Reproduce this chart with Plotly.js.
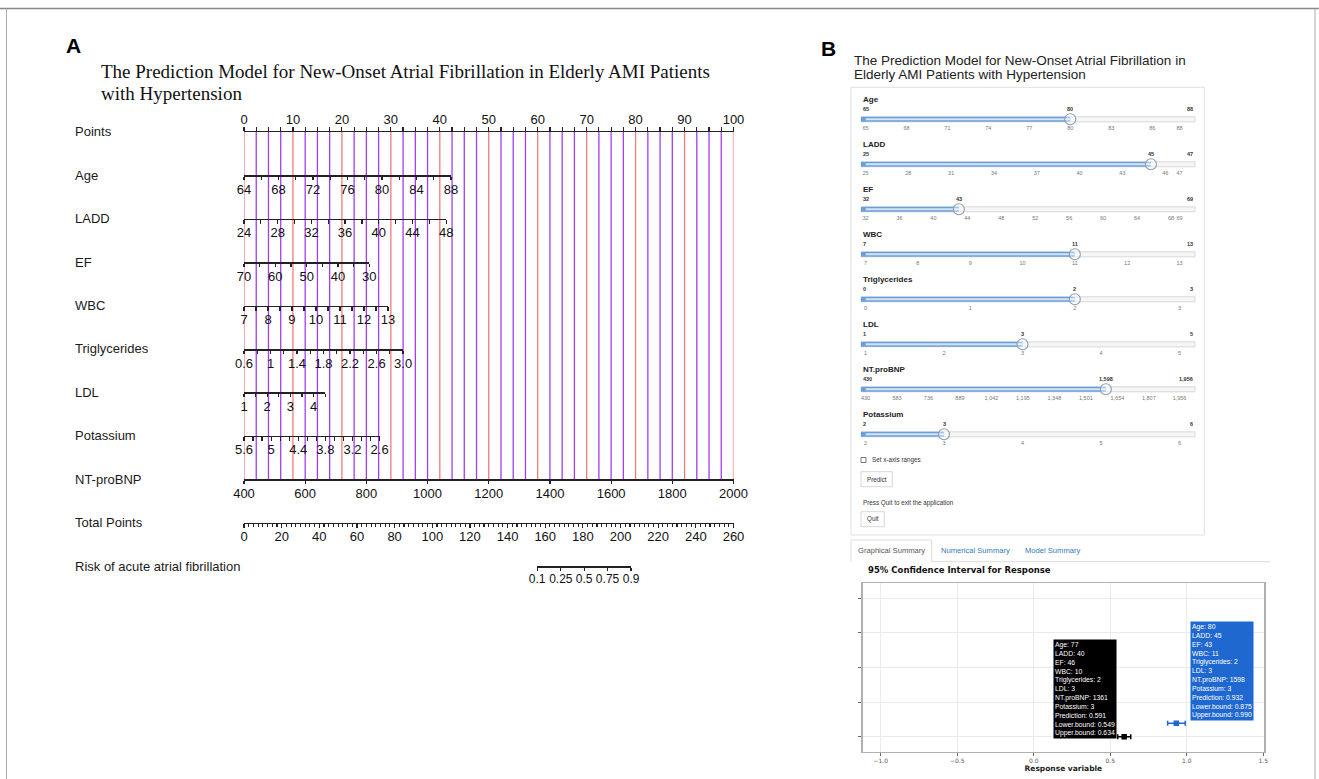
<!DOCTYPE html>
<html><head><meta charset="utf-8">
<script src="https://cdn.plot.ly/plotly-3.0.1.min.js"></script>
<style>html,body{margin:0;padding:0;background:#fff}#chart{width:1319px;height:779px}</style>
</head><body><div id="chart"></div>
<script>
// ================= DATA =================
// Panel A – nomogram scales
const rowNames = ['Points','Age','LADD','EF','WBC','Triglycerides','LDL','Potassium','NT-proBNP','Total Points','Risk of acute atrial fibrillation'];
const redGridPoints = [0,10,20,30,40,50,60,70,80,90,100];
const purpleGridPoints = [2.5,5,7.5,12.5,15,17.5,22.5,25,27.5,32.5,35,37.5,42.5,45,47.5,52.5,55,57.5,62.5,65,67.5,72.5,75,77.5,82.5,85,87.5,92.5,95,97.5];
const ageTicks = [64,68,72,76,80,84,88];
const laddTicks = [24,28,32,36,40,44,48];
const efTicks = [70,60,50,40,30];
const wbcTicks = [7,8,9,10,11,12,13];
const trigTicks = [0.6,1,1.4,1.8,2.2,2.6,3.0];
const trigText = ['0.6','1','1.4','1.8','2.2','2.6','3.0'];
const ldlTicks = [1,2,3,4];
const potassiumTicks = [5.6,5,4.4,3.8,3.2,2.6];
const ntTicks = [400,600,800,1000,1200,1400,1600,1800,2000];
const scaleStart = [64,24,70,7,0.6,1,5.6,400];
const scaleEnd = [88,48,30,13,3.0,4.5,2.6,2000];
const scaleMaxPoints = [42.3,41.3,25.6,29.4,32.5,16.6,27.7,100];
const scaleMinorStep = [2,2,5,0.5,0.2,0.5,0.2,0];
const pointsMax = 100;
const totalPointsMax = 260;
const riskLabels = ['0.1','0.25','0.5','0.75','0.9'];
const riskAtTotalPoints = [155.7,168.3,180.7,193.1,205.6];

// Panel B – sliders
const sliderNames = ['Age','LADD','EF','WBC','Triglycerides','LDL','NT.proBNP','Potassium'];
const sliderMin = [65,25,32,7,0,1,430,2];
const sliderMax = [88,47,69,13,3,5,1956,6];
const sliderValue = [80,45,43,11,2,3,1598,3];
const ageSliderTicks = [65,68,71,74,77,80,83,86,88];
const laddSliderTicks = [25,28,31,34,37,40,43,46,47];
const efSliderTicks = [32,36,40,44,48,52,56,60,64,68,69];
const wbcSliderTicks = [7,8,9,10,11,12,13];
const trigSliderTicks = [0,1,2,3];
const ldlSliderTicks = [1,2,3,4,5];
const ntSliderTicks = [430,583,736,889,1042,1195,1348,1501,1654,1807,1956];
const kSliderTicks = [2,3,4,5,6];

// Panel B – confidence interval plot
const ciXTicks = [-1,-0.5,0,0.5,1,1.5];
const ciYTicks = [1,2,3,4,5];
const predY = [1,1.39];
const predValue = [0.591,0.932];
const predLower = [0.549,0.875];
const predUpper = [0.634,0.990];
const tipAge = [77,80];
const tipLADD = [40,45];
const tipEF = [46,43];
const tipWBC = [10,11];
const tipTrig = [2,2];
const tipLDL = [3,3];
const tipNT = [1361,1598];
const tipK = [3,3];

// ================= LAYOUT HELPERS =================
const W=1319,H=779;
const fx = p => p/W, fy = p => 1 - p/H;
const RED='#f27b7b', PURPLE='#a23ef0', AX='#222';
const PX0=244, PX1=733.5;
const rowY = i => 132 + 43.4*i;

const traces=[], shapes=[], annotations=[];
const layout = {
  width:W, height:H, margin:{l:0,r:0,t:0,b:0},
  paper_bgcolor:'#fff', plot_bgcolor:'rgba(0,0,0,0)',
  showlegend:false, hovermode:false, dragmode:false,
  font:{family:'Liberation Sans, Arial, sans-serif', color:'#111'}
};
function ann(x,y,text,o){
  annotations.push(Object.assign({x:x,y:y,xref:'paper',yref:'paper',text:text,showarrow:false,xanchor:'left',yanchor:'middle'},o||{}));
}
function rect(x0,y0,x1,y1,o){
  shapes.push(Object.assign({type:'rect',xref:'paper',yref:'paper',x0:fx(x0),x1:fx(x1),y0:fy(y1),y1:fy(y0),layer:'below',line:{color:'#ccc',width:1},fillcolor:'rgba(0,0,0,0)'},o||{}));
}
function hline(x0,x1,y,o){
  shapes.push(Object.assign({type:'line',xref:'paper',yref:'paper',x0:fx(x0),x1:fx(x1),y0:fy(y),y1:fy(y),layer:'below',line:{color:'#ddd',width:1}},o||{}));
}
function invisible(x,xa,ya){
  traces.push({type:'scatter',x:x,y:x.map(()=>0),xaxis:xa,yaxis:ya,mode:'markers',marker:{opacity:0},hoverinfo:'skip'});
}
function smallY(lineY,n){
  layout['yaxis'+n]={domain:[fy(lineY), fy(lineY)+0.004], range:[0,1], visible:false, fixedrange:true};
}

// outer frame
hline(0,W,8.5,{line:{color:'#888',width:1.5}});
shapes.push({type:'line',xref:'paper',yref:'paper',x0:fx(6.5),x1:fx(6.5),y0:0,y1:fy(8.5),line:{color:'#aaa',width:1}});
shapes.push({type:'line',xref:'paper',yref:'paper',x0:fx(1315),x1:fx(1315),y0:0,y1:fy(8.5),line:{color:'#aaa',width:1}});

// ================= PANEL A =================
ann(fx(73),fy(45),'<b>A</b>',{xanchor:'center',font:{size:21,family:'Liberation Sans Narrow, Liberation Sans, Arial',color:'#000'}});
ann(fx(99),fy(71.5),'The Prediction Model for New-Onset Atrial Fibrillation in Elderly AMI Patients',{font:{size:19,family:'Liberation Serif, Times New Roman, serif',color:'#111'}});
ann(fx(99),fy(93.5),'with Hypertension',{font:{size:19,family:'Liberation Serif, Times New Roman, serif',color:'#111'}});
rowNames.forEach((nm,i)=>ann(fx(73),fy(rowY(i)),nm,{font:{size:13,color:'#1a1a1a'}}));

const tickStyle = {ticks:'outside',ticklen:3.5,tickwidth:1.2,tickcolor:AX,tickangle:0,ticklabelstandoff:-2,showline:true,linecolor:AX,linewidth:1.5,zeroline:false,showgrid:false,fixedrange:true,tickfont:{size:13,color:'#111'}};

// Points axis
layout.xaxis = Object.assign({},tickStyle,{
  domain:[fx(PX0),fx(PX1)], range:[0,pointsMax], side:'top', anchor:'y',
  tickmode:'linear', tick0:0, dtick:10,
  minor:{tick0:0, dtick:2.5, ticks:'outside', ticklen:3.5, tickwidth:1.2, tickcolor:AX}
});
layout.yaxis = {domain:[fy(rowY(8)), fy(rowY(0))], range:[0,1], visible:false, fixedrange:true};
function gridTrace(vals,color){
  const xs=[], ys=[];
  vals.forEach(v=>{xs.push(v,v,null); ys.push(0,1,null);});
  traces.push({type:'scatter',x:xs,y:ys,xaxis:'x',yaxis:'y',mode:'lines',line:{color:color,width:1.3},cliponaxis:false,hoverinfo:'skip',connectgaps:false});
}
gridTrace(purpleGridPoints,PURPLE);
gridTrace(redGridPoints,RED);

const ticksList=[ageTicks,laddTicks,efTicks,wbcTicks,trigTicks,ldlTicks,potassiumTicks,ntTicks];
const textList=[null,null,null,null,trigText,null,null,null];
ticksList.forEach((tv,k)=>{
  const n=k+2, s=scaleStart[k], e=scaleEnd[k];
  const endPx = PX0 + scaleMaxPoints[k]/pointsMax*(PX1-PX0);
  const eps=(e-s)*1e-6;
  const ax = Object.assign({},tickStyle,{
    domain:[fx(PX0),fx(endPx)], range:[s-eps,e+eps], anchor:'y'+n, side:'bottom',
    tickmode:'array', tickvals:tv, ticktext: textList[k] || tv.map(String)
  });
  if(scaleMinorStep[k]>0) ax.minor={tick0:s, dtick:scaleMinorStep[k], ticks:'outside', ticklen:3.5, tickwidth:1.2, tickcolor:AX};
  layout['xaxis'+n]=ax;
  smallY(rowY(k+1),n);
  invisible(tv,'x'+n,'y'+n);
});

// Total points
{
  const eps=totalPointsMax*1e-6;
  layout.xaxis10 = Object.assign({},tickStyle,{domain:[fx(PX0),fx(PX1)], range:[-eps,totalPointsMax+eps], anchor:'y10',
    tickmode:'linear', tick0:0, dtick:20,
    minor:{tick0:0, dtick:2.5, ticks:'outside', ticklen:2.5, tickwidth:1.1, tickcolor:AX}});
  smallY(rowY(9),10);
  invisible([0,totalPointsMax],'x10','y10');
}
// Risk
{
  const a=riskAtTotalPoints[0], b=riskAtTotalPoints[riskAtTotalPoints.length-1];
  const pxA=PX0+a/totalPointsMax*(PX1-PX0), pxB=PX0+b/totalPointsMax*(PX1-PX0);
  const eps=(b-a)*1e-6;
  layout.xaxis11 = Object.assign({},tickStyle,{domain:[fx(pxA),fx(pxB)], range:[a-eps,b+eps], anchor:'y11',
    tickmode:'array', tickvals:riskAtTotalPoints, ticktext:riskLabels, tickfont:{size:12,color:'#111'}});
  smallY(rowY(10),11);
  invisible(riskAtTotalPoints,'x11','y11');
}

// ================= PANEL B =================
ann(fx(828),fy(48),'<b>B</b>',{xanchor:'center',font:{size:21,family:'Liberation Sans Narrow, Liberation Sans, Arial',color:'#000'}});
ann(fx(851.5),fy(60.5),'The Prediction Model for New-Onset Atrial Fibrillation in',{font:{size:13.5,color:'#222'}});
ann(fx(851.5),fy(74),'Elderly AMI Patients with Hypertension',{font:{size:13.5,color:'#222'}});
rect(851,87.3,1204.3,535,{line:{color:'#e0e0e0',width:1}});

const sliderTicks=[ageSliderTicks,laddSliderTicks,efSliderTicks,wbcSliderTicks,trigSliderTicks,ldlSliderTicks,ntSliderTicks,kSliderTicks];
const BLUE='#6b9fdb';
sliderNames.forEach((nm,i)=>{
  const n=12+i, ty=119.3+45*i;
  const isNT = nm==='NT.proBNP';
  const fmt = v => isNT ? v.toLocaleString('en-US') : String(v);
  layout['xaxis'+n]={domain:[fx(865.5),fx(1179.5)], range:[sliderMin[i],sliderMax[i]], anchor:'y'+n,
    tickmode:'array', tickvals:sliderTicks[i], ticktext:sliderTicks[i].map(fmt), ticks:'', ticklabelstandoff:2.5, tickangle:0,
    showline:false, showgrid:false, zeroline:false, fixedrange:true, tickfont:{size:5.5,color:'#777'}};
  layout['yaxis'+n]={domain:[fy(ty+4),fy(ty-4)], range:[-1,1], visible:false, fixedrange:true};
  rect(861,ty-2.5,1195,ty+2.5,{fillcolor:'#f6f6f6',line:{color:'#d0d0d0',width:0.8}});
  rect(861,ty-2.5,866,ty+2.5,{fillcolor:BLUE,line:{width:0}});
  traces.push({type:'scatter',x:[sliderMin[i],sliderValue[i]],y:[0,0],xaxis:'x'+n,yaxis:'y'+n,mode:'lines',line:{color:BLUE,width:5},cliponaxis:false,hoverinfo:'skip'});
  traces.push({type:'scatter',x:[sliderMin[i],sliderValue[i]],y:[0,0],xaxis:'x'+n,yaxis:'y'+n,mode:'lines',line:{color:'#d6e5f6',width:2},cliponaxis:false,hoverinfo:'skip'});
  traces.push({type:'scatter',x:[sliderValue[i]],y:[0],xaxis:'x'+n,yaxis:'y'+n,mode:'markers',cliponaxis:false,
    marker:{symbol:'circle',size:11,color:'rgba(255,255,255,0.4)',line:{color:'#8d9db3',width:1.1}},hoverinfo:'skip'});
  ann(fx(861),fy(ty-19.5),'<b>'+nm+'</b>',{font:{size:8,color:'#222'}});
  const lab={size:5.5,color:'#333'};
  annotations.push({x:sliderMin[i],xref:'x'+n,y:fy(ty-10),yref:'paper',text:'<b>'+fmt(sliderMin[i])+'</b>',showarrow:false,xanchor:'left',xshift:-4.5,yanchor:'middle',font:lab});
  annotations.push({x:sliderMax[i],xref:'x'+n,y:fy(ty-10),yref:'paper',text:'<b>'+fmt(sliderMax[i])+'</b>',showarrow:false,xanchor:'right',xshift:15.5,yanchor:'middle',font:lab});
  annotations.push({x:sliderValue[i],xref:'x'+n,y:fy(ty-10),yref:'paper',text:'<b>'+fmt(sliderValue[i])+'</b>',showarrow:false,xanchor:'center',yanchor:'middle',font:lab});
});

// controls
rect(861,457.5,866,462.5,{fillcolor:'#fff',line:{color:'#555',width:0.8}});
ann(fx(869.5),fy(460),'Set x-axis ranges',{font:{size:6.3,color:'#333'}});
rect(861,471.7,892.3,486.7,{fillcolor:'#fff',line:{color:'#cccccc',width:0.8}});
ann(fx(876.6),fy(479.2),'Predict',{xanchor:'center',font:{size:6.3,color:'#333'}});
ann(fx(861),fy(502.7),'Press Quit to exit the application',{font:{size:6.3,color:'#333'}});
rect(861,511.7,884.3,526.7,{fillcolor:'#fff',line:{color:'#cccccc',width:0.8}});
ann(fx(872.6),fy(519.2),'Quit',{xanchor:'center',font:{size:6.3,color:'#333'}});

// tabs
shapes.push({type:'path',xref:'paper',yref:'paper',layer:'below',
  path:'M'+fx(851)+','+fy(561.7)+' L'+fx(851)+','+fy(540)+' L'+fx(931.7)+','+fy(540)+' L'+fx(931.7)+','+fy(561.7),
  line:{color:'#dddddd',width:1}});
hline(931.7,1270,561.7,{line:{color:'#dddddd',width:1}});
ann(fx(891.3),fy(550.7),'Graphical Summary',{xanchor:'center',font:{size:7.6,color:'#555'}});
ann(fx(975),fy(550.7),'Numerical Summary',{xanchor:'center',font:{size:7.6,color:'#337ab7'}});
ann(fx(1052.7),fy(550.7),'Model Summary',{xanchor:'center',font:{size:7.6,color:'#337ab7'}});
ann(fx(865.7),fy(570),'<b>95% Confidence Interval for Response</b>',{font:{size:8.5,family:'DejaVu Sans, Verdana, sans-serif',color:'#111'}});

// CI plot
layout.xaxis20={domain:[fx(862.7),fx(1264)], range:[-1.118,1.505], anchor:'y20',
  tickmode:'array', tickvals:ciXTicks, tickformat:'.1f', ticks:'outside', ticklen:2.5, tickcolor:'#666', tickangle:0,
  tickfont:{size:6,family:'DejaVu Sans, Verdana, sans-serif',color:'#555'},
  showgrid:true, gridcolor:'#ebebeb', gridwidth:1, zeroline:false,
  showline:true, mirror:true, linecolor:'#b0b0b0', linewidth:1.5, fixedrange:true,
  title:{text:'<b>Response variable</b>', font:{size:7.5,family:'DejaVu Sans, Verdana, sans-serif',color:'#222'}, standoff:3}};
layout.yaxis20={domain:[fy(751.7),fy(583.3)], range:[0.566,5.434], anchor:'x20',
  tickmode:'array', tickvals:ciYTicks, showticklabels:false, ticks:'outside', ticklen:3, tickcolor:'#666',
  showgrid:true, gridcolor:'#ebebeb', gridwidth:1, zeroline:false,
  showline:true, mirror:true, linecolor:'#b0b0b0', linewidth:1.5, fixedrange:true};
const predColor=['#000000','#1f68d0'];
predValue.forEach((v,i)=>{
  traces.push({type:'scatter',x:[v],y:[predY[i]],xaxis:'x20',yaxis:'y20',mode:'markers',
    marker:{symbol:'square',size:5.5,color:predColor[i]},
    error_x:{type:'data',symmetric:false,array:[predUpper[i]-v],arrayminus:[v-predLower[i]],color:predColor[i],thickness:1.5,width:2.5},
    hoverinfo:'skip'});
  const txt=['Age: '+tipAge[i],'LADD: '+tipLADD[i],'EF: '+tipEF[i],'WBC: '+tipWBC[i],'Triglycerides: '+tipTrig[i],
    'LDL: '+tipLDL[i],'NT.proBNP: '+tipNT[i],'Potassium: '+tipK[i],'Prediction: '+v.toFixed(3),
    'Lower.bound: '+predLower[i].toFixed(3),'Upper.bound: '+predUpper[i].toFixed(3)].join('<br>');
  annotations.push({x: i===0?predLower[i]:predUpper[i], y:predY[i], xref:'x20', yref:'y20', text:txt, showarrow:false,
    xanchor: i===0?'right':'left', yanchor:'bottom', xshift: i===0?-1:5, yshift: i===0?-2:2,
    align:'left', bgcolor:predColor[i], borderpad:1, font:{size:6.8,color:'#fff'}});
});

layout.shapes=shapes; layout.annotations=annotations;
Plotly.newPlot('chart',traces,layout,{staticPlot:true,displayModeBar:false});
</script></body></html>
